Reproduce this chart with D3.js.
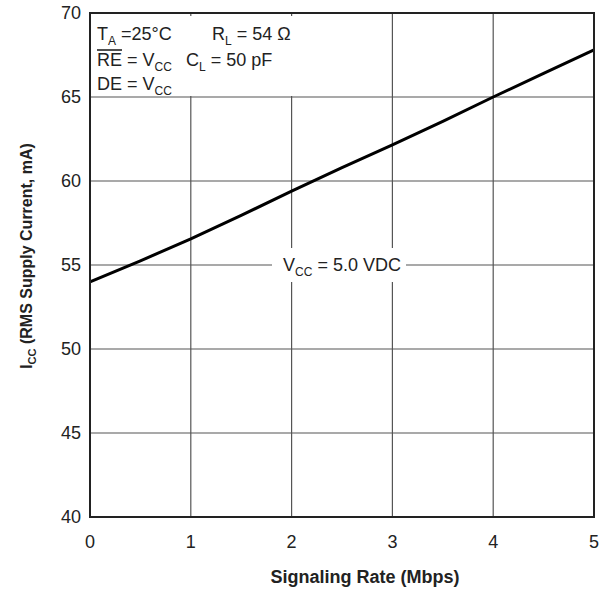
<!DOCTYPE html>
<html lang="en">
<head>
<meta charset="UTF-8">
<title>ICC vs Signaling Rate</title>
<style>
  body { margin: 0; background: #fff; font-family: "Liberation Sans", Arial, sans-serif; }
  .grid line { stroke: #555; stroke-width: 1.2; }
  .tick-label { font-size: 18px; fill: #222; }
  .axis-title { font-size: 18px; font-weight: bold; fill: #222; }
  .note { font-size: 18px; fill: #222; }
</style>
</head>
<body>
<svg id="chart" width="606" height="591"></svg>
<script src="https://d3js.org/d3.v7.min.js"></script>
<script>
// data
const rates = [0, 0.5, 1, 1.5, 2, 2.5, 3, 3.5, 4, 4.5, 5];
const icc = [54.0, 55.25, 56.55, 57.95, 59.4, 60.8, 62.15, 63.55, 65.0, 66.4, 67.8];
const xTicks = [0, 1, 2, 3, 4, 5];
const yTicks = [40, 45, 50, 55, 60, 65, 70];

const width = 606, height = 591;
const margin = { top: 13, right: 12, bottom: 74, left: 90 };

const svg = d3.select("#chart");

const x = d3.scaleLinear().domain([0, 5]).range([margin.left, width - margin.right]);
const y = d3.scaleLinear().domain([40, 70]).range([height - margin.bottom, margin.top]);

// grid
const grid = svg.append("g").attr("class", "grid");
grid.selectAll(".vx").data(xTicks.slice(1, -1)).enter().append("line")
  .attr("x1", d => x(d)).attr("x2", d => x(d))
  .attr("y1", y(40)).attr("y2", y(70));
grid.selectAll(".hy").data(yTicks.slice(1, -1)).enter().append("line")
  .attr("x1", x(0)).attr("x2", x(5))
  .attr("y1", d => y(d)).attr("y2", d => y(d));

// white boxes behind the notes
svg.append("rect").attr("x", x(0) + 1).attr("y", y(70) + 3)
  .attr("width", 210).attr("height", y(65) - y(70) - 4).attr("fill", "#fff");
svg.append("rect").attr("x", x(2.5) - 70).attr("y", y(55) - 17)
  .attr("width", 134).attr("height", 34).attr("fill", "#fff");

// curve
svg.append("path")
  .datum(rates.map((r, i) => [r, icc[i]]))
  .attr("fill", "none").attr("stroke", "#000").attr("stroke-width", 3)
  .attr("d", d3.line().x(d => x(d[0])).y(d => y(d[1])));

// frame
svg.append("rect")
  .attr("x", x(0)).attr("y", y(70))
  .attr("width", x(5) - x(0)).attr("height", y(40) - y(70))
  .attr("fill", "none").attr("stroke", "#222").attr("stroke-width", 2);

// tick labels
svg.selectAll(".xl").data(xTicks).enter().append("text")
  .attr("class", "tick-label").attr("text-anchor", "middle")
  .attr("x", d => x(d)).attr("y", y(40) + 31).text(d => d);
svg.selectAll(".yl").data(yTicks).enter().append("text")
  .attr("class", "tick-label").attr("text-anchor", "end")
  .attr("x", x(0) - 9).attr("y", d => y(d) + 6).text(d => d);

// axis titles
svg.append("text").attr("class", "axis-title").attr("text-anchor", "middle")
  .attr("x", 365).attr("y", 583).text("Signaling Rate (Mbps)");

const yt = svg.append("text").attr("class", "axis-title").attr("text-anchor", "middle")
  .style("font-size", "16px")
  .attr("transform", "translate(32, 256) rotate(-90)");
yt.append("tspan").text("I");
yt.append("tspan").attr("dy", 4).attr("font-size", 11).text("CC");
yt.append("tspan").attr("dy", -4).text(" (RMS Supply Current, mA)");

// helper for text with subscripts: parts = [[text, isSub], ...]
function note(px, py, parts) {
  const t = svg.append("text").attr("class", "note").attr("x", px).attr("y", py);
  let sub = false;
  parts.forEach(([s, isSub]) => {
    const sp = t.append("tspan").text(s);
    if (isSub && !sub) sp.attr("dy", 5).attr("font-size", 12);
    else if (!isSub && sub) sp.attr("dy", -5);
    sub = isSub;
  });
  return t;
}

note(97, 40, [["T", false], ["A", true], [" =25°C", false]]);
note(212, 40, [["R", false], ["L", true], [" = 54 Ω", false]]);
note(97, 66, [["RE = V", false], ["CC", true]]);
svg.append("line").attr("x1", 97).attr("x2", 122).attr("y1", 50).attr("y2", 50)
  .attr("stroke", "#222").attr("stroke-width", 1.6);
note(186, 66, [["C", false], ["L", true], [" = 50 pF", false]]);
note(97, 90, [["DE = V", false], ["CC", true]]);

note(x(2.5), y(55) + 6, [["V", false], ["CC", true], [" = 5.0 VDC", false]])
  .attr("text-anchor", "middle");
</script>
</body>
</html>
